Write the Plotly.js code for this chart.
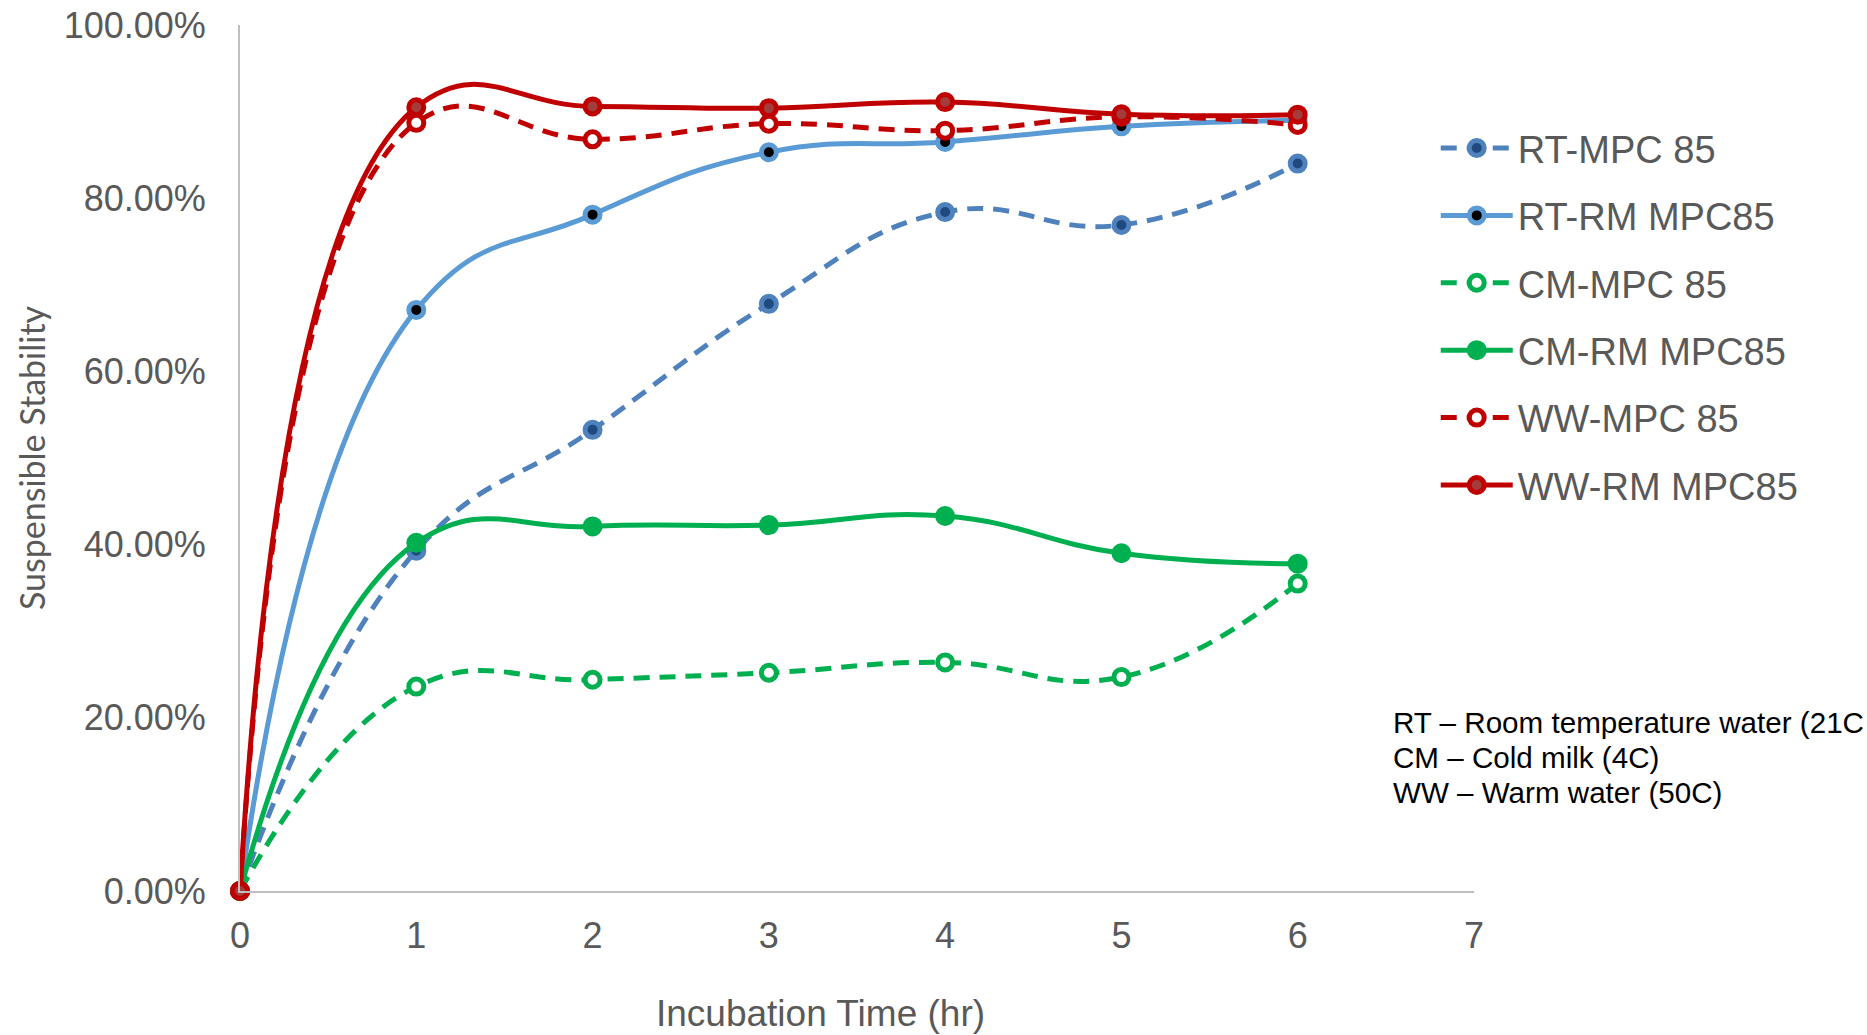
<!DOCTYPE html>
<html>
<head>
<meta charset="utf-8">
<script src="https://cdn.plot.ly/plotly-3.0.1.min.js"></script>
<style>
html,body{margin:0;padding:0;background:#fff;}
#chart{width:1867px;height:1035px;}
</style>
</head>
<body>
<div id="chart"></div>
<script>
const hours = [0, 1, 2, 3, 4, 5, 6];
const seriesNames = ["RT-MPC 85", "RT-RM MPC85", "CM-MPC 85", "CM-RM MPC85", "WW-MPC 85", "WW-RM MPC85"];
const rtMpc85   = [0, 0.393, 0.5325, 0.678, 0.784, 0.769, 0.840];
const rtRmMpc85 = [0, 0.671, 0.781, 0.853, 0.865, 0.883, 0.890];
const cmMpc85   = [0, 0.236, 0.244, 0.252, 0.264, 0.247, 0.355];
const cmRmMpc85 = [0, 0.402, 0.421, 0.4225, 0.433, 0.390, 0.378];
const wwMpc85   = [0, 0.887, 0.868, 0.886, 0.878, 0.894, 0.8845];
const wwRmMpc85 = [0, 0.905, 0.906, 0.904, 0.911, 0.897, 0.8965];
const notes = ["RT – Room temperature water (21C", "CM – Cold milk (4C)", "WW – Warm water (50C)"];
const xTitle = "Incubation Time (hr)";
const yTitle = "Suspensible Stability";

const values = [rtMpc85, rtRmMpc85, cmMpc85, cmRmMpc85, wwMpc85, wwRmMpc85];
const styles = [
  {color: "#4F81BD", dash: "16px,10px", fill: "#1F4A80"},
  {color: "#5B9BD5", dash: "solid", fill: "#000000"},
  {color: "#00B050", dash: "16px,10px", fill: "#FFFFFF"},
  {color: "#00B050", dash: "solid", fill: "#00B050"},
  {color: "#C00000", dash: "16px,10px", fill: "#FFFFFF"},
  {color: "#C00000", dash: "solid", fill: "#A43C3C"}
];

const traces = values.map((v, i) => ({
  x: hours,
  y: v,
  name: seriesNames[i],
  legendgroup: "g" + i,
  type: "scatter",
  mode: "lines+markers",
  cliponaxis: false,
  line: {color: styles[i].color, width: 5, dash: styles[i].dash, shape: "spline", smoothing: 1.3},
  marker: {symbol: "circle", size: 15, color: styles[i].fill, line: {color: styles[i].color, width: 5}}
}));

const gray = "#595959";
const annotations = notes.map((t, i) => ({
  text: t,
  xref: "paper", yref: "paper",
  x: 0.9328, y: [0.194, 0.1547, 0.1132][i],
  xanchor: "left", yanchor: "middle",
  showarrow: false,
  font: {family: "Liberation Sans, Arial, sans-serif", size: 29.6, color: "#000000"}
}));
annotations.push({
  text: xTitle,
  xref: "paper", yref: "paper",
  x: 0.4708, y: -0.142,
  xanchor: "center", yanchor: "middle",
  showarrow: false,
  font: {family: "Liberation Sans, Arial, sans-serif", size: 37, color: gray}
});

const layout = {
  width: 1867, height: 1035,
  margin: {l: 240, r: 393, t: 25, b: 144},
  paper_bgcolor: "#ffffff", plot_bgcolor: "#ffffff",
  font: {family: "Liberation Sans, Arial, sans-serif", color: gray},
  showlegend: true,
  legend: {
    x: 0.969, xanchor: "left", y: 0.894, yanchor: "top",
    font: {size: 38, color: gray},
    itemwidth: 72,
    tracegroupgap: 15,
    bgcolor: "rgba(0,0,0,0)"
  },
  xaxis: {
    range: [0, 7], dtick: 1, tick0: 0,
    showgrid: false, zeroline: false,
    showline: true, linecolor: "#BFBFBF", linewidth: 2,
    ticks: "", ticklabelstandoff: 12,
    tickfont: {size: 36, color: gray}
  },
  yaxis: {
    range: [0, 1], dtick: 0.2, tick0: 0,
    tickformat: ".2%",
    showgrid: false, zeroline: false,
    showline: true, linecolor: "#BFBFBF", linewidth: 2,
    ticks: "", ticklabelstandoff: 25,
    tickfont: {size: 36, color: gray},
    title: {text: yTitle, font: {family: "Lato, Open Sans, sans-serif", size: 34, color: gray}, standoff: 8}
  },
  annotations: annotations
};

Plotly.newPlot("chart", traces, layout, {displayModeBar: false, staticPlot: true});
</script>
</body>
</html>
